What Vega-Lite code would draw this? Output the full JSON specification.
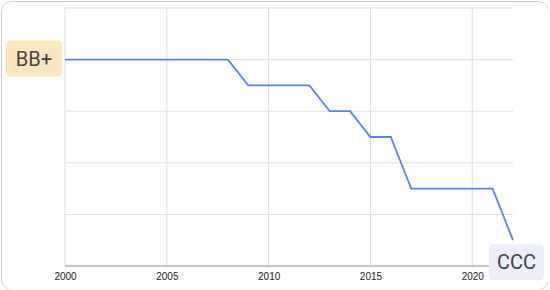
{
  "$schema": "https://vega.github.io/schema/vega-lite/v6.json",
  "width": 547,
  "height": 288,
  "padding": {"left": 1, "top": 1, "right": 0, "bottom": 0},
  "autosize": {"type": "none"},
  "background": "white",
  "config": {
    "view": {"stroke": "#c9c9c9", "strokeWidth": 1, "cornerRadius": 10}
  },
  "datasets": {
    "rating": [
      {"year": 2000, "level": 8},
      {"year": 2008, "level": 8},
      {"year": 2009, "level": 7},
      {"year": 2012, "level": 7},
      {"year": 2013, "level": 6},
      {"year": 2014, "level": 6},
      {"year": 2015, "level": 5},
      {"year": 2016, "level": 5},
      {"year": 2017, "level": 3},
      {"year": 2021, "level": 3},
      {"year": 2022, "level": 1}
    ],
    "vgrid": [
      {"year": 2000}, {"year": 2005}, {"year": 2010}, {"year": 2015}, {"year": 2020}
    ],
    "hgrid": [
      {"level": 2}, {"level": 4}, {"level": 6}, {"level": 8}, {"level": 10}
    ],
    "labels": [
      {"year": 2000, "level": 8, "label": "BB+", "kind": "first"},
      {"year": 2022, "level": 1, "label": "CCC", "kind": "last"}
    ]
  },
  "layer": [
    {
      "data": {"name": "vgrid"},
      "mark": {"type": "rule", "color": "#dcdcdc", "strokeWidth": 1},
      "encoding": {
        "x": {"field": "year", "type": "quantitative", "scale": {"domain": [2000, 2022], "range": [64, 512]},
          "axis": {"values": [2000, 2005, 2010, 2015, 2020], "format": "d", "title": null, "grid": false, "domain": false, "ticks": false, "offset": -23, "labelFontSize": 10, "labelColor": "#222", "labelFont": "Liberation Sans", "labelPadding": 5, "labelFlush": false, "labelOverlap": false}},
        "y": {"datum": 0, "type": "quantitative", "scale": {"domain": [0, 10], "range": [265, 7]}, "axis": null},
        "y2": {"datum": 10}
      }
    },
    {
      "data": {"name": "hgrid"},
      "mark": {"type": "rule", "color": "#dcdcdc", "strokeWidth": 1},
      "encoding": {
        "y": {"field": "level", "type": "quantitative"},
        "x": {"datum": 2000, "type": "quantitative"},
        "x2": {"datum": 2022}
      }
    },
    {
      "data": {"values": [{"level": 0}]},
      "mark": {"type": "rule", "color": "#8c8c8c", "strokeWidth": 1.2},
      "encoding": {
        "y": {"field": "level", "type": "quantitative"},
        "x": {"datum": 2000, "type": "quantitative"},
        "x2": {"datum": 2022}
      }
    },
    {
      "data": {"name": "rating"},
      "mark": {"type": "line", "color": "#5a82ee", "strokeWidth": 1.8, "clip": false},
      "encoding": {
        "x": {"field": "year", "type": "quantitative"},
        "y": {"field": "level", "type": "quantitative"}
      }
    },
    {
      "data": {"name": "labels"},
      "transform": [{"filter": "datum.kind == 'first'"}],
      "layer": [
        {
          "mark": {"type": "rect", "width": 56, "height": 36, "cornerRadius": 4, "color": "#fde6be", "xOffset": -31, "yOffset": -1},
          "encoding": {
            "x": {"field": "year", "type": "quantitative"},
            "y": {"field": "level", "type": "quantitative"}
          }
        },
        {
          "mark": {"type": "text", "font": "Roboto", "fontSize": 20, "color": "#444", "xOffset": -31, "yOffset": 0, "align": "center", "baseline": "middle"},
          "encoding": {
            "x": {"field": "year", "type": "quantitative"},
            "y": {"field": "level", "type": "quantitative"},
            "text": {"field": "label"}
          }
        }
      ]
    },
    {
      "data": {"name": "labels"},
      "transform": [{"filter": "datum.kind == 'last'"}],
      "layer": [
        {
          "mark": {"type": "rect", "width": 55, "height": 36, "cornerRadius": 4, "color": "#eceefb", "xOffset": 3.5, "yOffset": 22},
          "encoding": {
            "x": {"field": "year", "type": "quantitative"},
            "y": {"field": "level", "type": "quantitative"}
          }
        },
        {
          "mark": {"type": "text", "font": "Roboto", "fontSize": 20, "color": "#444", "xOffset": 3.5, "yOffset": 23, "align": "center", "baseline": "middle"},
          "encoding": {
            "x": {"field": "year", "type": "quantitative"},
            "y": {"field": "level", "type": "quantitative"},
            "text": {"field": "label"}
          }
        }
      ]
    }
  ]
}
